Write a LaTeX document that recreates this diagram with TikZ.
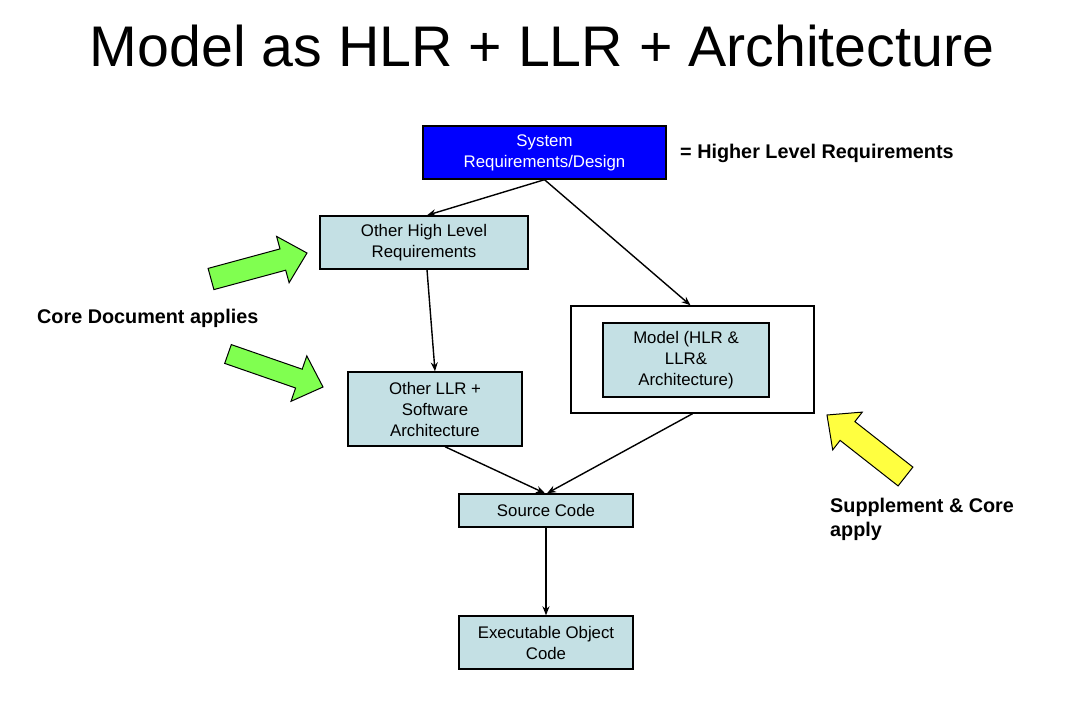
\documentclass[tikz,border=0pt]{standalone}
\usepackage{fontspec}
\setmainfont{Liberation Sans}
\usetikzlibrary{arrows.meta}
\definecolor{boxfill}{RGB}{196,224,228}
\definecolor{sysblue}{RGB}{0,0,255}
\definecolor{arrgreen}{RGB}{128,255,80}
\definecolor{arryellow}{RGB}{255,255,64}
\tikzset{
  box/.style={draw=black, line width=1.4pt, fill=boxfill, align=center, inner sep=2pt,
    font=\fontsize{16.8}{21}\selectfont},
  conn/.style={draw=black, line width=1.4pt, -{Stealth[length=9pt,width=7pt]}},
  lbl/.style={font=\fontsize{19.8}{24}\selectfont\bfseries, inner sep=0pt, align=left},
  blk/.style={draw=black, line width=1pt, line join=miter},
}
\begin{document}
\begin{tikzpicture}[x=1pt,y=-1pt]
\useasboundingbox (0,0) rectangle (1080,718);
\node[font=\fontsize{57.3}{60}\selectfont, inner sep=0pt] (title) at (542,46) {Model as HLR + LLR + Architecture};

\node[box, fill=sysblue, text=white, minimum width=243pt, minimum height=53pt] (sys) at (544.5,152.5) {System\\Requirements/Design};
\node[lbl, anchor=west] (hlrlbl) at (680,153) {= Higher Level Requirements};

\node[box, minimum width=208pt, minimum height=53pt] (hlr) at (424,242.5) {Other High Level\\Requirements};
\node[box, minimum width=174pt, minimum height=74pt] (llr) at (435,409) {Other LLR +\\Software\\Architecture};
\node[draw=black, line width=1.4pt, fill=white, minimum width=243pt, minimum height=107pt] (outer) at (692.5,359.5) {};
\node[box, minimum width=166pt, minimum height=74pt] (model) at (686,360) {Model (HLR \&\\LLR\&\\Architecture)};
\node[box, minimum width=174pt, minimum height=33pt] (src) at (546,510.5) {Source Code};
\node[box, minimum width=174pt, minimum height=53pt] (exe) at (546,642.5) {Executable Object\\Code};

\draw[conn] (sys.south) -- ([xshift=3pt]hlr.north);
\draw[conn] (sys.south) -- ([xshift=-2pt]outer.north);
\draw[conn] ([xshift=3pt]hlr.south) -- (llr.north);
\draw[conn] ([xshift=10pt]llr.south) -- ([xshift=-1pt]src.north);
\draw[conn] (outer.south) -- ([xshift=1pt]src.north);
\draw[conn] (src.south) -- (exe.north);

\node[lbl, anchor=west] (core) at (37,318) {Core Document applies};
\node[lbl, anchor=west] (supp) at (830,519) {Supplement \& Core\\apply};

\draw[blk, fill=arrgreen] (213.9,289.6) -- (208.1,268.4) -- (280.0,248.9) -- (276.6,236.4) -- (307,253) -- (289.1,282.7) -- (285.7,270.2) -- cycle;
\draw[blk, fill=arrgreen] (224.7,363.4) -- (231.3,344.6) -- (302.2,369.2) -- (306.8,355.9) -- (323,387) -- (291.0,401.3) -- (295.6,388.0) -- cycle;
\draw[blk, fill=arryellow] (912.9,467.1) -- (898.1,485.9) -- (840.1,440.4) -- (832.7,449.9) -- (827,415) -- (862.3,412.1) -- (854.9,421.6) -- cycle;
\end{tikzpicture}
\end{document}
